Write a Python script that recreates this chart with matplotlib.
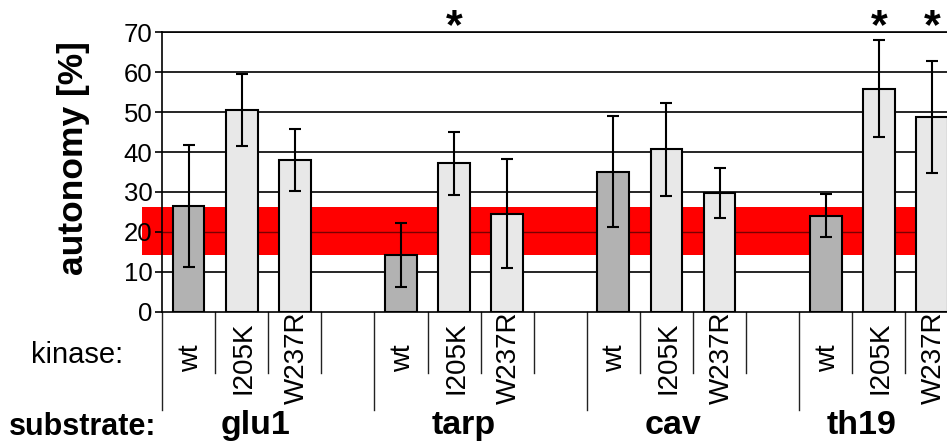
import matplotlib
matplotlib.use("Agg")
import matplotlib.pyplot as plt
import matplotlib.transforms as mtransforms
import numpy as np

plt.rcParams['font.family'] = ['Liberation Sans', 'DejaVu Sans']

substrates = ['glu1', 'tarp', 'cav', 'th19']
kinases = ['wt', 'I205K', 'W237R']
glu1_vals = [26.5, 50.5, 38.0]
tarp_vals = [14.2, 37.2, 24.6]
cav_vals = [35.1, 40.7, 29.7]
th19_vals = [24.1, 55.9, 48.7]
glu1_err = [15.2, 9.1, 7.8]
tarp_err = [7.9, 7.9, 13.6]
cav_err = [14.0, 11.6, 6.3]
th19_err = [5.3, 12.2, 14.0]
significant = [[False, False, False], [False, True, False],
               [False, False, False], [False, True, True]]
band_low, band_high, band_mid = 14.3, 26.2, 20.0
yticks = [0, 10, 20, 30, 40, 50, 60, 70]

values = [glu1_vals, tarp_vals, cav_vals, th19_vals]
errors = [glu1_err, tarp_err, cav_err, th19_err]

W, H = 947, 443
fig = plt.figure(figsize=(W / 100, H / 100), dpi=100)

def fx(px):
    return px / W

def fy(py):
    return 1 - py / H

y0px, y70px = 311.7, 32.3
left_px = 162
slot_px = 53.1
ax = fig.add_axes([fx(left_px), fy(y0px), (W - left_px) / W, (y0px - y70px) / H])
ax.set_xlim(-0.5, -0.5 + (W - left_px) / slot_px)
ax.set_ylim(0, 70)

# grid lines
for t in yticks[1:]:
    ax.axhline(t, color='black', lw=1.2, zorder=0.5)

# red reference band
ax.axhspan(band_low, band_high, xmin=(142 - left_px) / (W - left_px), xmax=1,
           color='#ff0000', lw=0, zorder=1, clip_on=False)
ax.axhline(band_mid, color='#7a0000', lw=1.0, zorder=1.2)

xs, vs, es, cols = [], [], [], []
for g, sub in enumerate(substrates):
    for k, kin in enumerate(kinases):
        xs.append(g * 4 + k)
        vs.append(values[g][k])
        es.append(errors[g][k])
        cols.append('#b2b2b2' if kin == 'wt' else '#e8e8e8')

ax.bar(xs, vs, width=0.6, color=cols, edgecolor='black', linewidth=1.5, zorder=2)
ax.errorbar(xs, vs, yerr=es, fmt='none', ecolor='black', elinewidth=1.5,
            capsize=4, capthick=1.5, zorder=3)

# significance stars
for g in range(len(substrates)):
    for k in range(len(kinases)):
        if significant[g][k]:
            ax.text(g * 4 + k, 71.2, '*', ha='center', va='center',
                    fontsize=31, fontweight='bold', clip_on=False)

for s in ['top', 'right']:
    ax.spines[s].set_visible(False)
ax.spines['left'].set_linewidth(1.2)
ax.spines['bottom'].set_linewidth(1.2)
ax.axhline(70, color='black', lw=1.2, zorder=0.5, clip_on=False)

ax.set_yticks(yticks)
ax.set_yticklabels([str(t) for t in yticks], fontsize=18.5)
ax.tick_params(axis='y', length=5, width=1.2, pad=2)
ax.set_xticks([])

# separators below the axis
trans = mtransforms.blended_transform_factory(ax.transData, ax.transAxes)
ax_h = y0px - y70px
short_end = (y0px - 373) / ax_h
long_end = (y0px - 410) / ax_h
for g in range(len(substrates)):
    for b in range(4):
        xb = g * 4 + b - 0.5
        end = long_end if b == 0 else short_end
        ax.plot([xb, xb], [0, end], color='#222222', lw=1.0, transform=trans,
                clip_on=False)

# kinase labels
lab_y = (y0px - 358) / ax_h
for g in range(len(substrates)):
    for k, kin in enumerate(kinases):
        ax.text(g * 4 + k + 0.04, lab_y, kin, rotation=90, ha='center', va='center',
                fontsize=20, transform=trans, clip_on=False)

# substrate labels
sub_offsets = [1.27, 1.18, 1.12, 0.68]
for g, sub in enumerate(substrates):
    ax.text(g * 4 + sub_offsets[g], (y0px - 434) / ax_h, sub, ha='center',
            va='baseline', fontsize=24.5, fontweight='bold', transform=trans,
            clip_on=False)

fig.text(fx(123), fy(363), 'kinase:', ha='right', va='baseline', fontsize=21)
fig.text(fx(9), fy(435), 'substrate:', ha='left', va='baseline', fontsize=22,
         fontweight='bold')
fig.text(fx(74), fy(158.5), 'autonomy [%]', rotation=90, ha='center', va='center',
         fontsize=25.5, fontweight='bold')

fig.savefig('out.png', dpi=100)
